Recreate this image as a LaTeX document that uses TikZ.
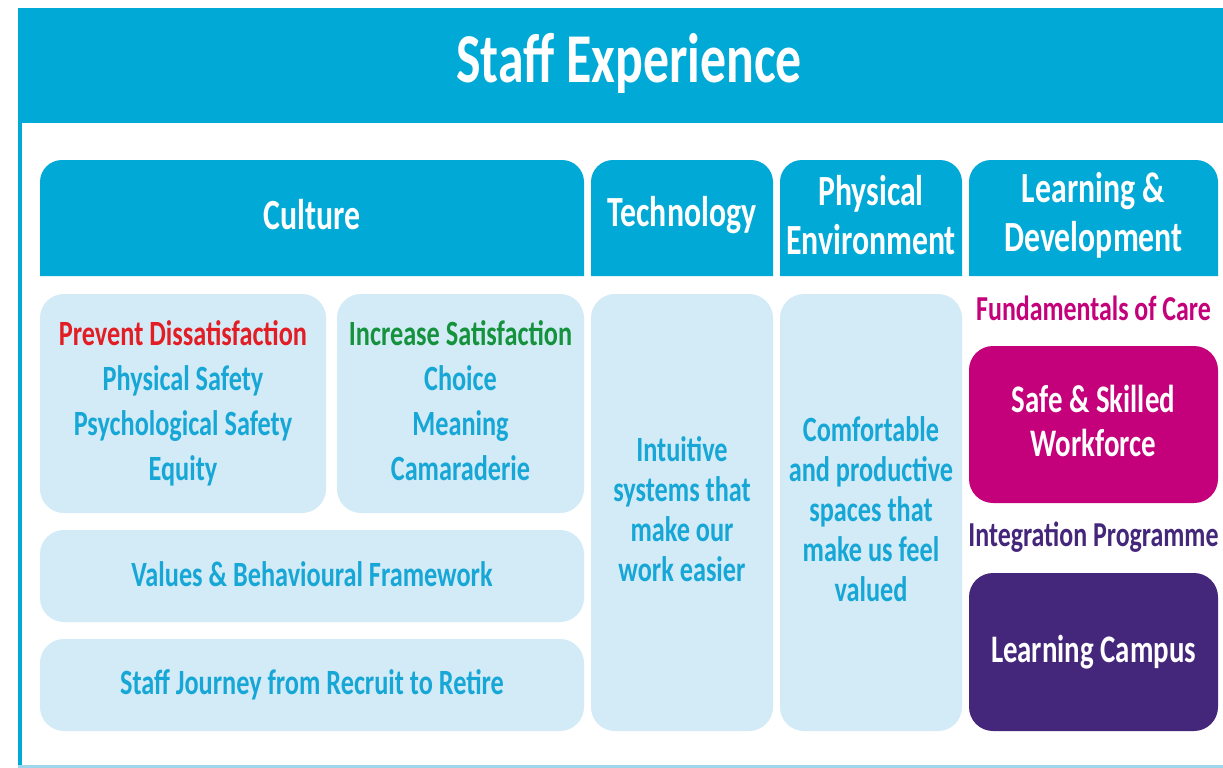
\documentclass[tikz,border=0pt]{standalone}
\usepackage{fontspec}
\setmainfont{Carlito}[FakeStretch=0.74]

\definecolor{bannerblue}{RGB}{0,169,214}
\definecolor{softblue}{RGB}{211,234,247}
\definecolor{inkblue}{RGB}{22,167,214}
\definecolor{framelight}{RGB}{160,214,236}
\definecolor{dissred}{RGB}{226,30,36}
\definecolor{satgreen}{RGB}{20,146,60}
\definecolor{careink}{RGB}{196,0,122}
\definecolor{campusink}{RGB}{68,38,122}

\tikzset{
  headfill/.style={fill=bannerblue},
  headtext/.style={text=white, align=center, font=\bfseries\fontsize{43}{49}\selectfont},
  softbox/.style={fill=softblue, rounded corners=24pt, inner sep=0pt, text=inkblue, align=center},
  bodytext/.style={font=\bfseries\fontsize{35.5}{45}\selectfont},
  narrowtext/.style={font=\bfseries\fontsize{35.5}{40}\selectfont},
  ldbox/.style={rounded corners=24pt, inner sep=0pt, text=white, align=center,
    minimum width=249pt, font=\bfseries\fontsize{39}{44}\selectfont},
  ldlabel/.style={font=\bfseries\fontsize{35}{38}\selectfont}
}

\begin{document}
\begin{tikzpicture}[x=1pt,y=-1pt]
  \useasboundingbox[fill=white] (0,0) rectangle (1223,768);

  % banner and frame
  \fill[bannerblue] (17.5,8) rectangle (1223,123);
  \fill[bannerblue] (17.5,8) rectangle (22,766);
  \fill[framelight] (17.5,764.5) rectangle (1223,768);
  \node[anchor=base, text=white, font=\bfseries\fontsize{70}{76}\selectfont] (title) at (629,82) {Staff Experience};

  % column headers
  \fill[headfill] (40,276) [rounded corners=22pt] -- (40,160) -- (584,160) [sharp corners] -- (584,276) -- cycle;
  \fill[headfill] (591,276) [rounded corners=22pt] -- (591,160) -- (773,160) [sharp corners] -- (773,276) -- cycle;
  \fill[headfill] (780,276) [rounded corners=22pt] -- (780,160) -- (962,160) [sharp corners] -- (962,276) -- cycle;
  \fill[headfill] (969,276) [rounded corners=22pt] -- (969,160) -- (1218,160) [sharp corners] -- (1218,276) -- cycle;
  \node[headtext] (culture) at (312,215) {Culture};
  \node[headtext] (technology) at (682,215) {Technology};
  \node[headtext] (physical) at (871,215) {Physical\\Environment};
  \node[headtext] (learning) at (1093.5,215) {Learning \&\\Development};

  % culture
  \node[softbox, bodytext, minimum width=286pt, minimum height=219pt] (prevent) at (183,403.5)
    {\textcolor{dissred}{Prevent Dissatisfaction}\\Physical Safety\\Psychological Safety\\Equity};
  \node[softbox, bodytext, minimum width=247pt, minimum height=219pt] (increase) at (460.5,403.5)
    {\textcolor{satgreen}{Increase Satisfaction}\\Choice\\Meaning\\Camaraderie\vspace{5pt}};
  \node[softbox, bodytext, minimum width=544pt, minimum height=92pt] (values) at (312,576)
    {\raisebox{4pt}{Values \& Behavioural Framework}};
  \node[softbox, bodytext, minimum width=544pt, minimum height=92pt] (journey) at (312,685)
    {Staff Journey from Recruit to Retire};

  % technology and environment
  \node[softbox, narrowtext, minimum width=182pt, minimum height=437pt] (systems) at (682,512.5)
    {Intuitive\\systems that\\make our\\work easier\vspace{6pt}};
  \node[softbox, narrowtext, minimum width=182pt, minimum height=437pt] (spaces) at (871,512.5)
    {Comfortable\\and productive\\spaces that\\make us feel\\valued\vspace{6pt}};

  % learning and development
  \node[ldlabel, text=careink] (fundamentals) at (1093.5,308) {Fundamentals of Care};
  \node[ldbox, fill=careink, minimum height=157pt] (skilled) at (1093.5,424.5) {Safe \& Skilled\\Workforce\vspace{8pt}};
  \node[ldlabel, text=campusink] (integration) at (1093.5,537) {Integration Programme};
  \node[ldbox, fill=campusink, minimum height=158pt] (campus) at (1093.5,652) {Learning Campus};
\end{tikzpicture}
\end{document}
